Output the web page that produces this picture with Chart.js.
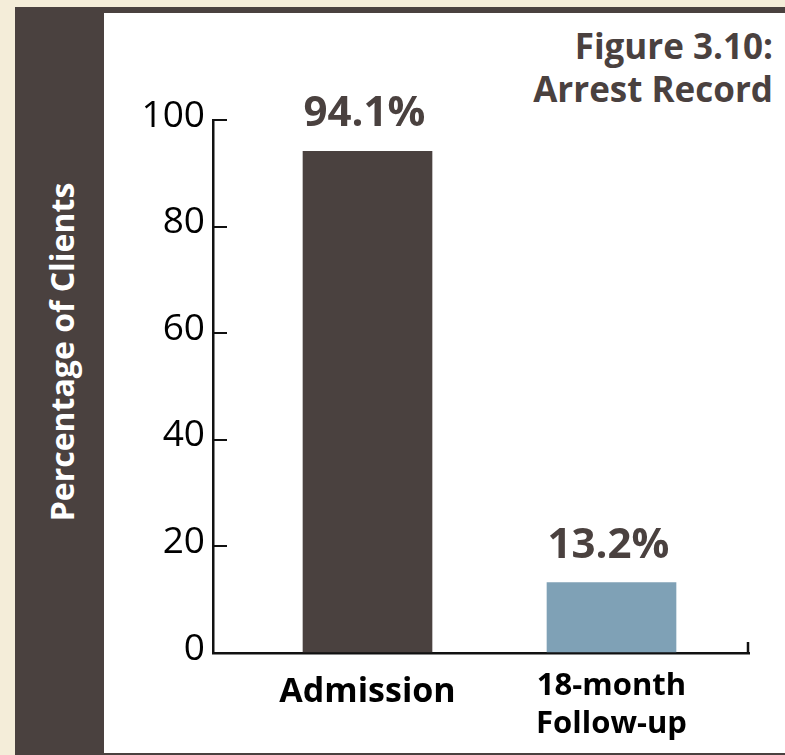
<!DOCTYPE html>
<html>
<head>
<meta charset="utf-8">
<script src="https://cdn.jsdelivr.net/npm/chart.js@4.4.1/dist/chart.umd.min.js"></script>
<style>
  body { margin: 0; background: #f4edd9; font-family: 'Open Sans', sans-serif; }
  #frame { position: absolute; left: 15px; top: 7px; width: 770px; height: 748px; background: #4a413f; }
  #paper { position: absolute; left: 104px; top: 13px; width: 681px; height: 740px; background: #fff; }
  #ytitle { position: absolute; left: 61px; top: 352px; transform: translate(-50%, -50%) rotate(-90deg);
            color: #fff; font-weight: 700; font-size: 32px; white-space: nowrap; }
  #title { position: absolute; right: 12px; top: 24px; text-align: right; color: #4a413f;
           font-weight: 700; font-size: 35px; line-height: 43px; }
  canvas { position: absolute; left: 104px; top: 13px; }
</style>
</head>
<body>
<div id="frame"></div>
<div id="paper"></div>
<div id="ytitle">Percentage of Clients</div>
<div id="title">Figure 3.10:<br>Arrest Record</div>
<canvas id="chart" width="681" height="740"></canvas>
<script>
const categories = ['Admission', ['18-month', 'Follow-up']];
const percentages = [94.1, 13.2];
const valueLabels = ['94.1%', '13.2%'];
const barColors = ['#4a413f', '#7fa1b6'];

// labels above the bars
const valueLabelPlugin = {
  id: 'valueLabels',
  afterDatasetsDraw(chart) {
    const ctx = chart.ctx;
    const meta = chart.getDatasetMeta(0);
    ctx.save();
    ctx.font = "bold 42px 'Open Sans'";
    ctx.fillStyle = '#4a413f';
    ctx.textAlign = 'center';
    ctx.textBaseline = 'alphabetic';
    meta.data.forEach(function(bar, i) {
      ctx.fillText(valueLabels[i], bar.x - 3, bar.y - 25);
    });
    ctx.restore();
  }
};

// small upward tick closing the x axis on the right
const axisEndTick = {
  id: 'axisEndTick',
  afterDraw(chart) {
    const ctx = chart.ctx;
    const area = chart.chartArea;
    ctx.save();
    ctx.strokeStyle = '#111';
    ctx.lineWidth = 2.5;
    ctx.beginPath();
    ctx.moveTo(area.right - 1, area.bottom + 1);
    ctx.lineTo(area.right - 1, area.bottom - 11);
    ctx.stroke();
    ctx.restore();
  }
};

new Chart(document.getElementById('chart'), {
  type: 'bar',
  data: {
    datasets: [{
      data: percentages.map((v, i) => ({ x: i + 1, y: v })),
      backgroundColor: barColors,
      barThickness: 129
    }]
  },
  options: {
    responsive: false,
    animation: false,
    devicePixelRatio: 1,
    layout: { padding: { top: 107, right: 36, bottom: 0, left: 0 } },
    plugins: { legend: { display: false }, tooltip: { enabled: false } },
    scales: {
      x: {
        type: 'linear',
        offset: false,
        min: 0.3668,
        max: 2.5635,
        grid: { display: false, drawTicks: false, offset: false },
        border: { display: true, color: '#111', width: 2.5 },
        afterBuildTicks: function(scale) {
          scale.ticks = categories.map((c, i) => ({ value: i + 1 }));
        },
        afterFit: function(scale) { scale.height = 100; },
        ticks: {
          autoSkip: false,
          maxRotation: 0,
          padding: 15,
          color: '#000',
          font: function(c) {
            if (c.index === 0) {
              return { family: "'Open Sans'", size: 34, weight: 'bold', lineHeight: 48 / 34 };
            }
            return { family: "'Open Sans'", size: 31, weight: 'bold', lineHeight: 1.2 };
          },
          callback: function(value) { return categories[value - 1]; }
        }
      },
      y: {
        min: 0,
        max: 100,
        grid: { drawOnChartArea: false, drawTicks: true, tickLength: -14, color: '#111', lineWidth: 2 },
        border: { display: true, color: '#111', width: 2.5 },
        afterFit: function(scale) { scale.width = 109; },
        ticks: {
          stepSize: 20,
          padding: 22,
          labelOffset: -4,
          color: '#000',
          font: { family: "'Open Sans'", size: 37 }
        }
      }
    }
  },
  plugins: [valueLabelPlugin, axisEndTick]
});
</script>
</body>
</html>
